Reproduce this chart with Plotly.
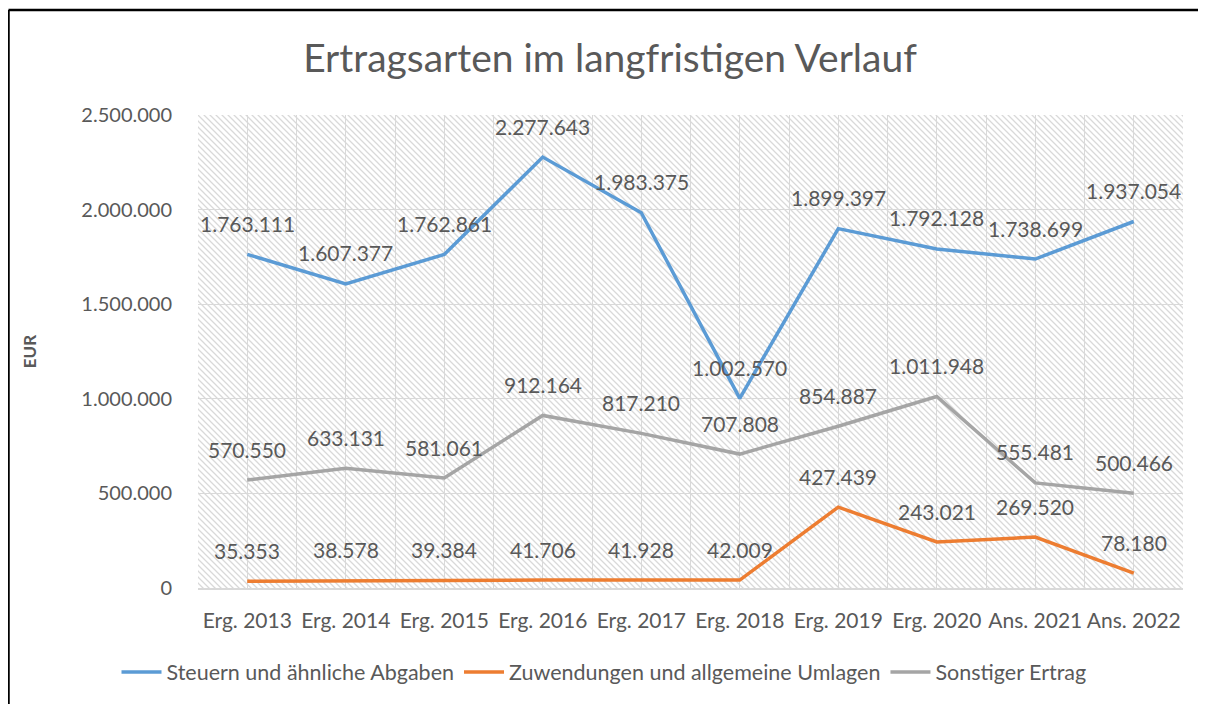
import base64
import plotly.graph_objects as go

# ---- data ----
categories = ["Erg. 2013", "Erg. 2014", "Erg. 2015", "Erg. 2016", "Erg. 2017",
              "Erg. 2018", "Erg. 2019", "Erg. 2020", "Ans. 2021", "Ans. 2022"]
steuern = [1763111, 1607377, 1762861, 2277643, 1983375,
           1002570, 1899397, 1792128, 1738699, 1937054]
zuwendungen = [35353, 38578, 39384, 41706, 41928,
               42009, 427439, 243021, 269520, 78180]
sonstige = [570550, 633131, 581061, 912164, 817210,
            707808, 854887, 1011948, 555481, 500466]
series_names = ["Steuern und ähnliche Abgaben",
                "Zuwendungen und allgemeine Umlagen",
                "Sonstiger Ertrag"]
series_values = [steuern, zuwendungen, sonstige]
series_colors = ["#5B9BD5", "#ED7D31", "#A5A5A5"]
y_ticks = [0, 500000, 1000000, 1500000, 2000000, 2500000]

FONT = "Lato"
TXT = "#595959"
# page has an 8px body margin, so the figure is 8px smaller
W, H = 1198, 696
ML, MT = 190, 107
PW, PH = 985, 473
MR, MB = W - ML - PW, H - MT - PH


def de(v):
    return f"{v:,}".replace(",", ".")


xs = list(range(len(categories)))

fig = go.Figure()
for name, vals, col in zip(series_names, series_values, series_colors):
    fig.add_trace(go.Scatter(x=xs, y=vals, name=name, mode="lines",
                             line=dict(color=col, width=3.5),
                             hoverinfo="skip"))
    for xv, yv in zip(xs, vals):
        fig.add_annotation(x=xv, y=yv, text=de(yv), showarrow=False,
                           yshift=31, xanchor="center", yanchor="middle",
                           font=dict(family=FONT, size=21, color=TXT))

# hatched plot background as an svg pattern image
svg = f'''<svg xmlns="http://www.w3.org/2000/svg" width="{PW}" height="{PH}" viewBox="0 0 {PW} {PH}" preserveAspectRatio="none">
<defs><pattern id="p" patternUnits="userSpaceOnUse" width="6" height="6">
<path d="M-1,-1 L7,7 M-1,5 L1,7 M5,-1 L7,1" stroke="#d9d9d9" stroke-width="1.3"/>
</pattern></defs>
<rect width="{PW}" height="{PH}" fill="white"/>
<rect width="{PW}" height="{PH}" fill="url(#p)"/>
</svg>'''
uri = "data:image/svg+xml;base64," + base64.b64encode(svg.encode()).decode()
fig.add_layout_image(source=uri, xref="paper", yref="paper", x=0, y=1,
                     sizex=1, sizey=1, sizing="stretch", xanchor="left",
                     yanchor="top", layer="below")

# tick positions including category boundaries (for the gridlines)
tickvals, ticktext = [], []
for i, c in enumerate(categories):
    tickvals += [i - 0.5, i]
    ticktext += ["", c]
tickvals.append(len(categories) - 0.5)
ticktext.append("")

# frame (top and left edges)
x_left = (0.5 - ML) / PW
y_top = (PH + MT - 2) / PH
fig.add_shape(type="line", xref="paper", yref="paper", x0=x_left, x1=(W - ML) / PW + 0.01,
              y0=y_top, y1=y_top, line=dict(color="black", width=2.5))
fig.add_shape(type="line", xref="paper", yref="paper", x0=x_left, x1=x_left,
              y0=y_top, y1=-(MB + 5) / PH, line=dict(color="black", width=2.5))

fig.update_layout(
    width=W, height=H,
    margin=dict(l=ML, r=MR, t=MT, b=MB, autoexpand=False),
    paper_bgcolor="white", plot_bgcolor="white",
    separators=",.",
    font=dict(family=FONT, size=20, color=TXT),
    title=dict(text="Ertragsarten im langfristigen Verlauf",
               font=dict(family=FONT, size=39, color=TXT),
               xref="container", x=602 / W, xanchor="center",
               yref="container", y=1 - 50 / H, yanchor="middle"),
    showlegend=True,
    legend=dict(orientation="h", xref="container", yref="container",
                x=596 / W, xanchor="center", y=1 - 664 / H, yanchor="middle",
                font=dict(family=FONT, size=21.5, color=TXT),
                itemwidth=40, tracegroupgap=0),
    hovermode=False,
)
fig.update_xaxes(range=[-0.5, len(categories) - 0.5], tickmode="array",
                 tickvals=tickvals, ticktext=ticktext, showgrid=True,
                 gridcolor="#d9d9d9", gridwidth=1, zeroline=False,
                 showline=True, linecolor="#d9d9d9", linewidth=1.5,
                 ticks="", ticklabelstandoff=13,
                 tickfont=dict(family=FONT, size=21, color=TXT),
                 fixedrange=True)
fig.update_yaxes(range=[0, 2500000], tickmode="array", tickvals=y_ticks,
                 ticktext=[de(v) for v in y_ticks], showgrid=True,
                 gridcolor="#d9d9d9", gridwidth=1, zeroline=False,
                 ticks="", ticklabelstandoff=25,
                 tickfont=dict(family=FONT, size=20, color=TXT),
                 title=dict(text="<b>EUR</b>", standoff=40,
                            font=dict(family=FONT, size=17, color=TXT)),
                 fixedrange=True)

fig.write_html("out.html")
